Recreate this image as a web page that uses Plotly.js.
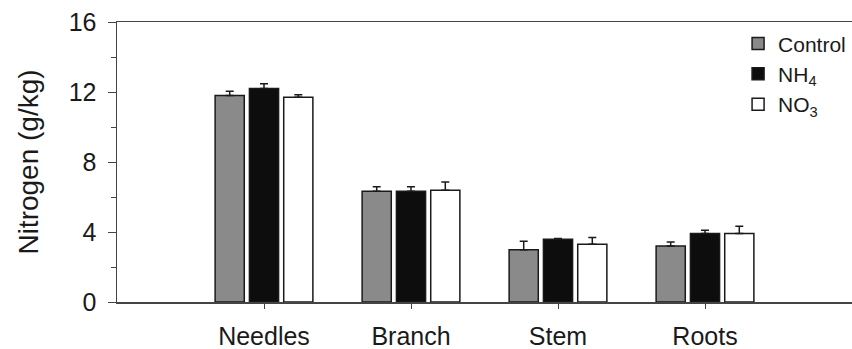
<!DOCTYPE html>
<html>
<head>
<meta charset="utf-8">
<script src="https://cdn.plot.ly/plotly-3.0.1.min.js"></script>
<style>html,body{margin:0;padding:0;background:#fff;}#chart{width:852px;height:349px;}</style>
</head>
<body>
<div id="chart"></div>
<script>
const categories = ["Needles", "Branch", "Stem", "Roots"];
const controlValues = [11.8, 6.33, 2.99, 3.2];
const controlErrors = [0.25, 0.25, 0.48, 0.23];
const nh4Values = [12.2, 6.33, 3.58, 3.91];
const nh4Errors = [0.27, 0.25, 0.05, 0.19];
const no3Values = [11.7, 6.38, 3.3, 3.91];
const no3Errors = [0.14, 0.48, 0.38, 0.42];
const yTicks = [0, 4, 8, 12, 16];

function barTrace(name, vals, errs, fill) {
  return {
    type: "bar", name: name, x: categories, y: vals,
    marker: {color: fill, line: {color: "#1a1a1a", width: 1.5}},
    error_y: {type: "data", array: errs, arrayminus: errs.map(() => 0), symmetric: false,
              color: "#1a1a1a", thickness: 1.5, width: 4}
  };
}

const data = [
  barTrace("Control", controlValues, controlErrors, "#8a8a8a"),
  barTrace("NH<sub>4</sub>", nh4Values, nh4Errors, "#0d0d0d"),
  barTrace("NO<sub>3</sub>", no3Values, no3Errors, "#ffffff")
];

const layout = {
  width: 852, height: 349,
  margin: {l: 117, r: 0, t: 22, b: 47},
  paper_bgcolor: "#fff", plot_bgcolor: "#fff",
  font: {family: "Liberation Sans, Arial, sans-serif", color: "#1a1a1a"},
  barmode: "group", bargap: 0.30, bargroupgap: 0.15,
  showlegend: true,
  legend: {x: 0.845, y: 0.995, xanchor: "left", yanchor: "top",
           font: {size: 21, color: "#1a1a1a"}, bgcolor: "rgba(0,0,0,0)", itemwidth: 30},
  xaxis: {
    type: "category", range: [-1, 4], showline: true, linecolor: "#444", linewidth: 1.5,
    mirror: true, ticks: "outside", ticklen: 5, tickcolor: "#444", showgrid: false,
    tickfont: {size: 25}, ticklabelstandoff: 6, zeroline: false, fixedrange: true
  },
  yaxis: {
    range: [0, 16], tickvals: yTicks, ticktext: yTicks.map(String),
    showline: true, linecolor: "#444", linewidth: 1.5, ticks: "outside", ticklen: 8,
    tickcolor: "#444", showgrid: false, zeroline: false, tickfont: {size: 25},
    ticklabelstandoff: 6,
    minor: {tickvals: [2, 6, 10, 14], ticks: "outside", ticklen: 5, tickcolor: "#444", showgrid: false},
    title: {text: "Nitrogen (g/kg)", font: {size: 28}, standoff: 22}
  }
};

Plotly.newPlot("chart", data, layout, {displayModeBar: false, staticPlot: true});
</script>
</body>
</html>
